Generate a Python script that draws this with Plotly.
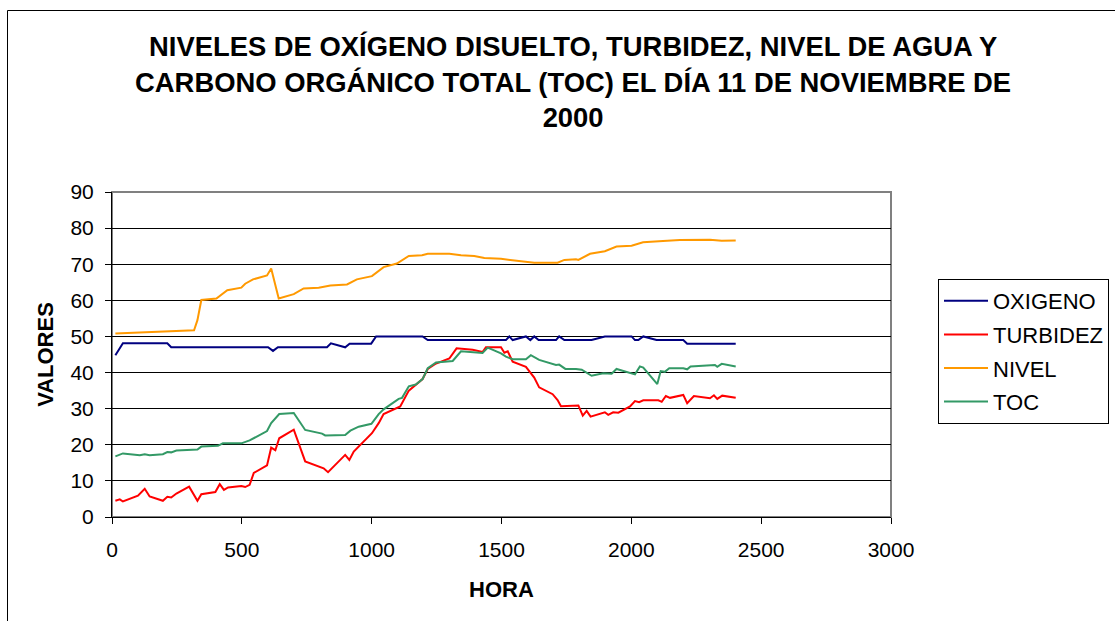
import plotly.graph_objects as go

# ---- data ----
oxi_x = [13, 42, 213, 228, 601, 620, 639, 828, 843, 898, 915, 998, 1017, 1196, 1216,
         1517, 1530, 1543, 1594, 1611, 1626, 1643, 1710, 1722, 1742, 1847, 1898, 2001,
         2014, 2027, 2046, 2097, 2200, 2215, 2402]
oxi_y = [44.8, 48.1, 48.1, 47, 47, 46, 47, 47, 48.1, 47, 48, 48, 50, 50, 49,
         49, 50, 49, 50, 49, 50, 49, 49, 50, 49, 49, 50, 50,
         49, 49, 50, 49, 49, 48, 48]

tur_x = [13, 30, 42, 100, 126, 145, 196, 213, 228, 248, 297, 329, 344, 398, 415, 431,
         447, 498, 513, 530, 546, 578, 597, 613, 629, 644, 700, 744, 815, 832, 898, 914,
         931, 1001, 1027, 1046, 1110, 1143, 1170, 1196, 1216, 1248, 1299, 1327, 1389,
         1427, 1440, 1498, 1511, 1524, 1543, 1594, 1626, 1645, 1697, 1716, 1729, 1787,
         1796, 1813, 1828, 1843, 1898, 1911, 1930, 1950, 1995, 2014, 2030, 2046, 2104,
         2117, 2133, 2149, 2200, 2215, 2241, 2303, 2318, 2331, 2350, 2402]
tur_y = [4.5, 4.9, 4.3, 5.9, 7.8, 5.7, 4.5, 5.6, 5.4, 6.5, 8.4, 4.5, 6.3, 6.9, 9.1, 7.5,
         8.2, 8.6, 8.3, 8.9, 12.2, 13.6, 14.3, 19.2, 18.5, 21.8, 24.2, 15.4, 13.5, 12.4, 17.2, 15.8,
         18.1, 23.2, 26, 28.5, 30.6, 35, 36.5, 38.2, 41, 42.5, 43.9, 46.7, 46.3,
         45.7, 47, 47, 45.5, 45.9, 43, 41.6, 38.6, 35.9, 34, 32.4, 30.7, 30.8,
         30.9, 28.1, 29.4, 27.8, 29, 28.3, 29, 28.9, 30.6, 32.1, 31.8, 32.3, 32.3,
         31.9, 33.5, 33, 33.8, 31.5, 33.5, 32.9, 33.7, 32.7, 33.6, 33]

niv_x = [13, 113, 216, 316, 329, 344, 402, 444, 498, 513, 543, 578, 597, 613, 642, 700,
         738, 796, 841, 905, 943, 1001, 1046, 1097, 1143, 1194, 1216, 1299, 1344, 1395,
         1434, 1498, 1543, 1626, 1716, 1742, 1787, 1796, 1841, 1898, 1943, 2001, 2045,
         2102, 2122, 2187, 2251, 2303, 2348, 2402]
niv_y = [50.8, 51.1, 51.5, 51.7, 54.5, 60.1, 60.5, 62.8, 63.5, 64.6, 65.8, 66.5, 66.9, 68.8, 60.5, 61.7,
         63.3, 63.5, 64.1, 64.4, 65.8, 66.7, 69.2, 70.2, 72.3, 72.5, 72.9, 72.9, 72.5, 72.3,
         71.7, 71.5, 71.1, 70.4, 70.4, 71.2, 71.4, 71.2, 72.9, 73.6, 74.9, 75.1, 76.1,
         76.2, 76.4, 76.7, 76.8, 76.8, 76.5, 76.6]

toc_x = [13, 42, 107, 126, 145, 196, 213, 228, 248, 329, 344, 408, 427, 498, 530, 578,
         597, 613, 644, 700, 709, 744, 809, 821, 898, 918, 950, 999, 1027, 1046, 1104,
         1117, 1143, 1170, 1196, 1216, 1248, 1299, 1312, 1344, 1427, 1447, 1498, 1517,
         1543, 1594, 1613, 1645, 1710, 1722, 1746, 1787, 1809, 1847, 1892, 1924, 1943,
         2014, 2033, 2046, 2100, 2113, 2129, 2146, 2200, 2215, 2228, 2322, 2331, 2348, 2402]
toc_y = [16.8, 17.6, 17.1, 17.4, 17.1, 17.4, 18, 17.9, 18.4, 18.7, 19.5, 19.7, 20.4, 20.4, 21.2, 22.9,
         23.8, 26, 28.5, 28.8, 27.8, 24.1, 23.1, 22.6, 22.7, 23.9, 25, 25.8, 28.5, 29.8, 32.7,
         33, 36.2, 36.7, 38.2, 41.2, 42.8, 43.2, 43.2, 45.9, 45.4, 46.9, 45.3, 44.4,
         43.7, 43.7, 44.8, 43.5, 42.1, 42.2, 41, 41, 40.8, 39.1, 39.8, 39.7, 41,
         39.5, 41.7, 41.4, 36.8, 40.4, 40.2, 41.2, 41.2, 40.9, 41.7, 42.1, 41.6, 42.4, 41.7]

series = [
    ("OXIGENO", oxi_x, oxi_y, "#000080"),
    ("TURBIDEZ", tur_x, tur_y, "#FF0000"),
    ("NIVEL", niv_x, niv_y, "#FF9900"),
    ("TOC", toc_x, toc_y, "#339966"),
]

title_text = ("NIVELES DE OXÍGENO DISUELTO, TURBIDEZ, NIVEL DE AGUA Y<br>"
              "CARBONO ORGÁNICO TOTAL (TOC) EL DÍA 11 DE NOVIEMBRE DE<br>2000")

FONT = "Liberation Sans, Arial, sans-serif"

fig = go.Figure()
for name, xs, ys, col in series:
    fig.add_trace(go.Scatter(x=xs, y=ys, mode="lines", name=name, legendgroup=name,
                             line=dict(color=col, width=2)))

W, H = 1115, 621
L, R, T, B = 112, 224, 192, 104
pw, ph = W - L - R, H - T - B

def px_to_paper_x(px):
    return (px - L) / pw

def px_to_paper_y(py):
    return (H - B - py) / ph

fig.update_layout(
    width=W, height=H,
    margin=dict(l=L, r=R, t=T, b=B, autoexpand=False),
    paper_bgcolor="white", plot_bgcolor="white",
    font=dict(family=FONT, size=21, color="black"),
    title=dict(text="<b>" + title_text + "</b>", x=0.514, xanchor="center",
               y=1 - 56 / H, yanchor="top",
               font=dict(size=27.4, family=FONT)),
    showlegend=True,
    legend=dict(x=px_to_paper_x(938), y=px_to_paper_y(279), xanchor="left", yanchor="top",
                bordercolor="black", borderwidth=1, bgcolor="white",
                font=dict(size=22), tracegroupgap=2, itemwidth=44),
    xaxis=dict(range=[0, 3000], dtick=500, tick0=0, showgrid=False, zeroline=False,
               showline=True, linecolor="black", linewidth=1, ticks="outside",
               ticklen=6, tickcolor="black", tickfont=dict(size=21), ticklabelstandoff=8,
               title=dict(text="<b>HORA</b>", font=dict(size=22), standoff=21)),
    yaxis=dict(range=[0, 90], dtick=10, tick0=0, showgrid=True, gridcolor="#000000",
               gridwidth=1, zeroline=False, showline=True, linecolor="black", linewidth=1,
               ticks="outside", ticklen=6, tickcolor="black", tickfont=dict(size=21),
               ticklabelstandoff=7,
               title=dict(text="<b>VALORES</b>", font=dict(size=22), standoff=10)),
    shapes=[
        # gray plot-area frame
        dict(type="rect", xref="paper", yref="paper", x0=0, x1=1, y0=0, y1=1,
             line=dict(color="#808080", width=2), layer="below"),
        # outer chart frame (extends beyond the picture on right/bottom)
        dict(type="rect", xref="paper", yref="paper",
             x0=px_to_paper_x(7.5), x1=px_to_paper_x(1200),
             y0=px_to_paper_y(700), y1=px_to_paper_y(10.5),
             line=dict(color="black", width=1)),
    ],
)

fig.write_html("out.html", config={"displayModeBar": False},
               post_script="document.body.style.margin='0';document.body.style.overflow='hidden';")
